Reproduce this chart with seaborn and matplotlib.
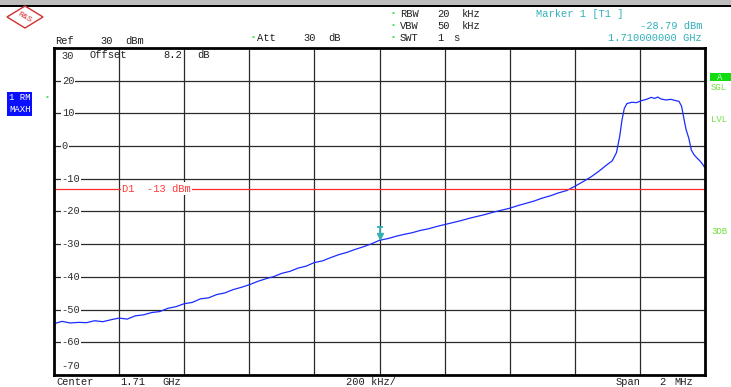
import seaborn as sns
import matplotlib.pyplot as plt
import matplotlib.transforms as mtransforms
from matplotlib.patches import Rectangle, Polygon
import pandas as pd

# trace (offset from 1.71 GHz in kHz, level in dBm)
freq_khz = [-1000, -975, -950, -925, -900, -875, -850, -825, -800, -775,
            -750, -725, -700, -675, -650, -625, -600, -575, -550, -525,
            -500, -475, -450, -425, -400, -375, -350, -325, -300, -275,
            -250, -225, -200, -175, -150, -125, -100, -75, -50, -25,
            0, 25, 50, 75, 100, 125, 150, 175, 200, 225,
            250, 275, 300, 325, 350, 375, 400, 425, 450, 475,
            500, 525, 550, 575, 600, 625, 650, 675, 700, 715,
            728, 738, 745, 752, 760, 775, 790, 805, 820, 835,
            845, 855, 865, 880, 895, 910, 920, 928, 935, 942,
            950, 958, 966, 975, 985, 993, 1000]
level_dbm = [-54.3, -53.6, -54.1, -53.9, -54.0, -53.4, -53.7, -53.1, -52.6, -52.9,
             -51.9, -51.6, -50.9, -50.6, -49.6, -49.1, -48.2, -47.8, -46.7, -46.4,
             -45.4, -44.9, -43.9, -43.2, -42.4, -41.4, -40.6, -39.9, -38.9, -38.3,
             -37.3, -36.7, -35.6, -35.1, -34.1, -33.2, -32.5, -31.6, -30.8, -29.9,
             -28.8, -28.3, -27.6, -27.0, -26.5, -25.8, -25.3, -24.6, -24.0, -23.4,
             -22.8, -22.1, -21.5, -20.9, -20.2, -19.6, -19.0, -18.2, -17.5, -16.8,
             -15.9, -15.2, -14.3, -13.6, -12.3, -10.9, -9.4, -7.6, -5.6, -4.5,
             -2.0, 3.0, 8.0, 11.5, 13.0, 13.4, 13.3, 13.9, 14.3, 14.9,
             14.6, 15.0, 14.4, 14.1, 14.3, 13.9, 13.7, 12.2, 8.5, 5.0,
             2.5, -1.2, -2.6, -3.6, -4.6, -5.6, -6.7]

y_ticks = [20, 10, 0, -10, -20, -30, -40, -50, -60]
display_line = -13
marker_freq = 0
marker_level = -28.79

W, H = 731, 387
sns.set_style('white')
plt.rcParams['font.family'] = ['Liberation Mono', 'DejaVu Sans Mono']

fig = plt.figure(figsize=(W / 100, H / 100), dpi=100)
ax = fig.add_axes([54 / W, 1 - 375 / H, 651 / W, 327 / H])

df = pd.DataFrame({'f': freq_khz, 'lvl': level_dbm})
sns.lineplot(data=df, x='f', y='lvl', color='#1a2cff', lw=0.9, ax=ax)

ax.set_xlim(-1000, 1000)
ax.set_ylim(-70, 30)
ax.set_xticks([])
ax.set_yticks([])
ax.set_xlabel('')
ax.set_ylabel('')
for s in ax.spines.values():
    s.set_linewidth(2.0)
    s.set_color('black')

# grid
for k in range(1, 10):
    ax.axvline(-1000 + k * 200, color='#2a2a2a', lw=0.9, zorder=1)
for v in y_ticks:
    ax.axhline(v, color='#2a2a2a', lw=0.9, zorder=1)

# y labels inside the grid
tr = mtransforms.blended_transform_factory(ax.transAxes, ax.transData)
for v in y_ticks:
    ax.text(0.012, v, str(v), transform=tr, fontsize=7.5, va='center', ha='left',
            color='#303030', bbox=dict(fc='white', ec='none', pad=0.6), zorder=3)
ax.text(0.012, 27.7, '30', transform=tr, fontsize=7.5, va='center', ha='left', color='#303030')
ax.text(0.012, -67.2, '-70', transform=tr, fontsize=7.5, va='center', ha='left', color='#303030')

# display line
ax.axhline(display_line, color='#ff2a2a', lw=0.9, zorder=2)
ax.text(0.105, display_line, 'D1  -13 dBm', transform=tr, fontsize=7.5, va='center', ha='left',
        color='#ff3838', bbox=dict(fc='white', ec='none', pad=1.0), zorder=3)

# marker glyph above the trace
teal = '#30b0b8'
ax.plot([marker_freq, marker_freq], [marker_level + 0.6, marker_level + 4.0],
        color=teal, lw=1.3, zorder=4)
ax.plot([marker_freq], [marker_level + 4.0], marker='_', ms=5, mew=1.3, color=teal, zorder=4)
ax.plot([marker_freq], [marker_level + 1.4], marker='v', ms=4.5, color=teal, zorder=4)


def ftxt(x, y, s, **kw):
    kw.setdefault('fontsize', 7.5)
    kw.setdefault('color', '#202020')
    kw.setdefault('va', 'center')
    fig.text(x / W, 1 - y / H, s, **kw)


# top bar
fig.patches.append(Rectangle((0, 1 - 5 / H), 1, 5 / H, transform=fig.transFigure,
                             fc='#bdbdbd', ec='none'))
fig.patches.append(Rectangle((0, 1 - 7 / H), 1, 2 / H, transform=fig.transFigure,
                             fc='black', ec='none'))

# logo
cx, cy = 25, 17
pts = [((cx - 18) / W, 1 - cy / H), (cx / W, 1 - (cy - 11) / H),
       ((cx + 18) / W, 1 - cy / H), (cx / W, 1 - (cy + 11) / H)]
fig.patches.append(Polygon(pts, closed=True, transform=fig.transFigure,
                           fc='none', ec='#d03030', lw=1.0))
ftxt(cx, cy, 'R&S', fontsize=6, color='#d03030', ha='center', rotation=-30)

# header
ftxt(55, 41, 'Ref', ha='left')
ftxt(100, 41, '30', ha='left')
ftxt(125, 41, 'dBm', ha='left')
ftxt(89, 55, 'Offset', ha='left')
ftxt(163, 55, '8.2', ha='left')
ftxt(197, 55, 'dB', ha='left')

ftxt(253, 38, '\u2022', color='#40e040', ha='center', fontsize=6)
ftxt(257, 38, 'Att', ha='left')
ftxt(303, 38, '30', ha='left')
ftxt(328, 38, 'dB', ha='left')

for yy, name, val, unit in [(14, 'RBW', '20', 'kHz'), (26, 'VBW', '50', 'kHz'), (38, 'SWT', '1', 's')]:
    ftxt(393, yy, '\u2022', color='#40e040', ha='center', fontsize=6)
    ftxt(400, yy, name, ha='left')
    ftxt(437, yy, val, ha='left')
    ftxt(453 if unit == 's' else 462, yy, unit, ha='left')

ftxt(536, 14, 'Marker 1 [T1 ]', ha='left', color=teal)
ftxt(702, 26, '-28.79 dBm', ha='right', color=teal)
ftxt(702, 38, '1.710000000 GHz', ha='right', color=teal)

# footer
ftxt(56, 382, 'Center', ha='left')
ftxt(120, 382, '1.71', ha='left')
ftxt(162, 382, 'GHz', ha='left')
ftxt(346, 382, '200 kHz/', ha='left')
ftxt(616, 382, 'Span', ha='left')
ftxt(659, 382, '2', ha='left')
ftxt(674, 382, 'MHz', ha='left')

# left trace labels
ftxt(9, 98, '1 RM', ha='left', color='white', fontsize=6.5,
     bbox=dict(fc='#0a10ff', ec='none', pad=1.2))
ftxt(9, 110, 'MAXH', ha='left', color='white', fontsize=6.5,
     bbox=dict(fc='#0a10ff', ec='none', pad=1.2))
ftxt(47, 98, '\u2022', color='#40e040', ha='center', fontsize=6)

# right status labels
fig.patches.append(Rectangle((710 / W, 1 - 81 / H), 21 / W, 8 / H, transform=fig.transFigure,
                             fc='#10dd10', ec='none'))
ftxt(720, 77, 'A', ha='center', color='#d0ffd0', fontsize=6.5)
ftxt(711, 88, 'SGL', ha='left', color='#70e040', fontsize=6.5)
ftxt(711, 119, 'LVL', ha='left', color='#70e040', fontsize=6.5)
ftxt(711, 232, '3DB', ha='left', color='#70e040', fontsize=6.5)

fig.savefig('out.png', dpi=100)
